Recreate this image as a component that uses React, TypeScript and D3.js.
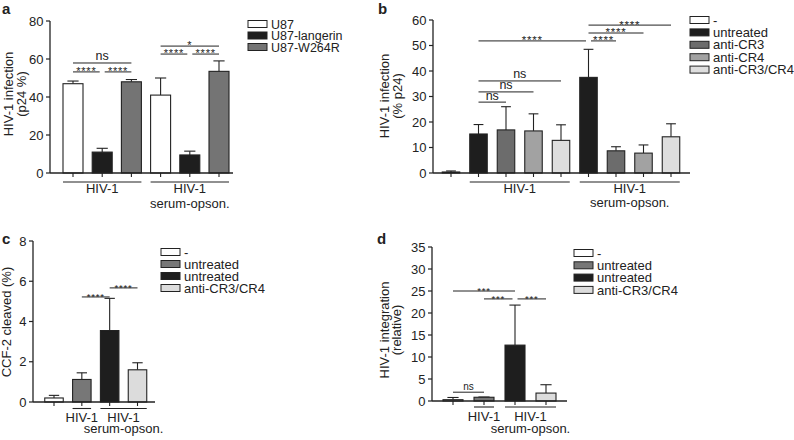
import React from "react";
import * as d3 from "d3";

const FONT = "'Liberation Sans', Arial, Helvetica, sans-serif";
const INK = "#222";

// ---- panel a
const aLegend = ["U87", "U87-langerin", "U87-W264R"];
const aFills = ["#ffffff", "#1e1e1e", "#747474"];
const aSeries = [0, 1, 2, 0, 1, 2];
const aMeans = [47, 11, 48, 41, 9.5, 53.5];
const aSd = [1.4, 2, 1.2, 9, 2, 5.5];
const aTicks = [0, 20, 40, 60, 80];
const aGroups = [
  { from: 0, to: 2, lines: ["HIV-1"] },
  { from: 3, to: 5, lines: ["HIV-1", "serum-opson."] },
];
const aSig = [
  { from: 0, to: 2, y: 57.9, label: "ns" },
  { from: 0, to: 1, y: 53.2, label: "****" },
  { from: 1, to: 2, y: 53.2, label: "****" },
  { from: 3, to: 5, y: 66.8, label: "*" },
  { from: 3, to: 4, y: 62.6, label: "****" },
  { from: 4, to: 5, y: 62.6, label: "****" },
];

// ---- panel b
const bLegend = ["-", "untreated", "anti-CR3", "anti-CR4", "anti-CR3/CR4"];
const bFills = ["#ffffff", "#1e1e1e", "#6c6c6c", "#a2a2a2", "#dedede"];
const bSeries = [0, 1, 2, 3, 4, 1, 2, 3, 4];
const bMeans = [0.4, 15.3, 16.9, 16.5, 12.8, 37.5, 8.7, 7.8, 14.2];
const bSd = [0.4, 3.7, 9.1, 6.7, 6.1, 11, 1.6, 3.2, 5.1];
const bTicks = [0, 10, 20, 30, 40, 50, 60];
const bGroups = [
  { from: 1, to: 4, lines: ["HIV-1"] },
  { from: 5, to: 8, lines: ["HIV-1", "serum-opson."] },
];
const bSig = [
  { from: 1, to: 5, y: 51.8, label: "****" },
  { from: 1, to: 4, y: 36.1, label: "ns" },
  { from: 1, to: 3, y: 31.8, label: "ns" },
  { from: 1, to: 2, y: 27.8, label: "ns" },
  { from: 5, to: 8, y: 58, label: "****" },
  { from: 5, to: 7, y: 54.9, label: "****" },
  { from: 5, to: 6, y: 51.8, label: "****" },
];

// ---- panel c
const cLegend = ["-", "untreated", "untreated", "anti-CR3/CR4"];
const cFills = ["#ffffff", "#777777", "#1e1e1e", "#dcdcdc"];
const cSeries = [0, 1, 2, 3];
const cMeans = [0.2, 1.12, 3.55, 1.6];
const cSd = [0.13, 0.33, 1.6, 0.35];
const cTicks = [0, 2, 4, 6, 8];
const cGroups = [
  { from: 1, to: 1, lines: ["HIV-1"] },
  { from: 2, to: 3, lines: ["HIV-1", "serum-opson."] },
];
const cSig = [
  { from: 1, to: 2, y: 5.22, label: "****" },
  { from: 2, to: 3, y: 5.67, label: "****" },
];

// ---- panel d
const dLegend = ["-", "untreated", "untreated", "anti-CR3/CR4"];
const dFills = ["#ffffff", "#777777", "#1e1e1e", "#dcdcdc"];
const dSeries = [0, 1, 2, 3];
const dMeans = [0.3, 0.85, 12.7, 1.8];
const dSd = [0.5, 0.05, 9.1, 1.9];
const dTicks = [0, 5, 10, 15, 20, 25, 30, 35];
const dGroups = [
  { from: 1, to: 1, lines: ["HIV-1"] },
  { from: 2, to: 3, lines: ["HIV-1", "serum-opson."] },
];
const dSig = [
  { from: 0, to: 2, y: 25, label: "***" },
  { from: 1, to: 2, y: 23.2, label: "***" },
  { from: 2, to: 3, y: 23.2, label: "***" },
  { from: 0, to: 1, y: 2.0, label: "ns" },
];

type Group = { from: number; to: number; lines: string[] };
type Sig = { from: number; to: number; y: number; label: string };

const BarPanel = (props: any) => {
  const {
    letter, letterX, letterY, x0, x1, yTop, yBottom, firstCenter, lastCenter, barW,
    ticks, means, sds, series, fills, legend, legendX, legendY, legendStep, legendFont,
    groups, sigs, title, titleX, titleY, groupDy, labelDy, subDy, starSize, nsSize,
  } = props;

  const yMax = d3.max(ticks as number[]) as number;
  const y = d3.scaleLinear().domain([0, yMax]).range([yBottom, yTop]);
  const x = d3.scalePoint<number>().domain(d3.range(means.length)).range([firstCenter, lastCenter]);
  const cx = (i: number) => x(i) as number;

  // brackets that meet another one at the same height get a small gap
  const inset = (s: Sig, end: "from" | "to") =>
    (sigs as Sig[]).some(o => o !== s && o.y === s.y &&
      (end === "to" ? o.from === s.to : o.to === s.from)) ? 2.5 : 0;

  return (
    <g fontFamily={FONT} fill={INK}>
      <text x={letterX} y={letterY} fontSize={15} fontWeight="bold">{letter}</text>

      {(title as string[]).map((t, k) => (
        <text key={k} transform={`translate(${titleX[k]},${titleY}) rotate(-90)`}
          textAnchor="middle" fontSize={13}>{t}</text>
      ))}

      {/* y axis */}
      <line x1={x0} x2={x0} y1={yTop} y2={yBottom} stroke={INK} strokeWidth={1.3} />
      {(ticks as number[]).map(t => (
        <g key={t}>
          <line x1={x0 - 4} x2={x0} y1={y(t)} y2={y(t)} stroke={INK} strokeWidth={1.2} />
          <text x={x0 - 6.5} y={y(t)} dy="0.36em" textAnchor="end" fontSize={13}>{t}</text>
        </g>
      ))}

      {/* bars + error bars */}
      {(means as number[]).map((m, i) => {
        const top = y(m + sds[i]);
        return (
          <g key={i}>
            <line x1={cx(i)} x2={cx(i)} y1={y(m)} y2={top} stroke={INK} strokeWidth={1.1} />
            <line x1={cx(i) - barW * 0.28} x2={cx(i) + barW * 0.28} y1={top} y2={top} stroke={INK} strokeWidth={1.1} />
            <rect x={cx(i) - barW / 2} y={y(m)} width={barW} height={yBottom - y(m)}
              fill={fills[series[i]]} stroke={INK} strokeWidth={1.1} />
          </g>
        );
      })}

      {/* x axis */}
      <line x1={x0} x2={x1} y1={yBottom} y2={yBottom} stroke={INK} strokeWidth={1.3} />
      {(means as number[]).map((_, i) => (
        <line key={i} x1={cx(i)} x2={cx(i)} y1={yBottom} y2={yBottom + 4} stroke={INK} strokeWidth={1.1} />
      ))}

      {/* groups */}
      {(groups as Group[]).map((g, k) => {
        const gx0 = cx(g.from) - barW / 2;
        const gx1 = cx(g.to) + barW / 2;
        const mid = (gx0 + gx1) / 2;
        return (
          <g key={k}>
            <line x1={gx0} x2={gx1} y1={yBottom + groupDy} y2={yBottom + groupDy} stroke={INK} strokeWidth={1.1} />
            {g.lines.map((t, j) => (
              <text key={j} x={mid} y={yBottom + (j === 0 ? labelDy : subDy)}
                textAnchor="middle" fontSize={13}>{t}</text>
            ))}
          </g>
        );
      })}

      {/* significance */}
      {(sigs as Sig[]).map((s, k) => {
        const sx0 = cx(s.from) + inset(s, "from");
        const sx1 = cx(s.to) - inset(s, "to");
        const ly = y(s.y);
        const isNs = s.label === "ns";
        return (
          <g key={k}>
            <line x1={sx0} x2={sx1} y1={ly} y2={ly} stroke={INK} strokeWidth={1} />
            <text x={(sx0 + sx1) / 2} y={isNs ? ly - 2.5 : ly + starSize * 0.3}
              textAnchor="middle" fontSize={isNs ? nsSize : starSize}
              letterSpacing={isNs ? 0 : 0.8}>{s.label}</text>
          </g>
        );
      })}

      {/* legend */}
      {(legend as string[]).map((t, k) => {
        const ly = legendY + k * legendStep;
        return (
          <g key={k}>
            <rect x={legendX} y={ly - 3.5} width={19} height={7} fill={fills[k]} stroke={INK} strokeWidth={1} />
            <text x={legendX + 23} y={ly} dy="0.36em" fontSize={legendFont}>{t}</text>
          </g>
        );
      })}
    </g>
  );
};

export default function App() {
  return (
    <svg width={794} height={440} style={{ display: "block", position: "absolute", left: 0, top: 0, background: "#fff" }}>
      <rect width={794} height={440} fill="#fff" />
      <BarPanel letter="a" letterX={2} letterY={14}
        x0={50} x1={233} yTop={21} yBottom={173} firstCenter={73} lastCenter={219} barW={20}
        ticks={aTicks} means={aMeans} sds={aSd} series={aSeries} fills={aFills}
        legend={aLegend} legendX={248} legendY={24} legendStep={11.5} legendFont={12.5}
        groups={aGroups} sigs={aSig}
        title={["HIV-1 infection", "(p24 %)"]} titleX={[12.5, 26]} titleY={94}
        groupDy={9} labelDy={20} subDy={35} starSize={11} nsSize={12.5} />
      <BarPanel letter="b" letterX={378} letterY={14}
        x0={433} x1={690} yTop={20} yBottom={173} firstCenter={451} lastCenter={671} barW={17.5}
        ticks={bTicks} means={bMeans} sds={bSd} series={bSeries} fills={bFills}
        legend={bLegend} legendX={690} legendY={20} legendStep={12.4} legendFont={13}
        groups={bGroups} sigs={bSig}
        title={["HIV-1 infection", "(% p24)"]} titleX={[388.5, 401.5]} titleY={96}
        groupDy={9} labelDy={20} subDy={34} starSize={11.5} nsSize={12.5} />
      <BarPanel letter="c" letterX={2} letterY={244}
        x0={33} x1={155} yTop={241} yBottom={402} firstCenter={54} lastCenter={137.5} barW={18.5}
        ticks={cTicks} means={cMeans} sds={cSd} series={cSeries} fills={cFills}
        legend={cLegend} legendX={161} legendY={252} legendStep={12} legendFont={13}
        groups={cGroups} sigs={cSig}
        title={["CCF-2 cleaved (%)"]} titleX={[11]} titleY={322}
        groupDy={6.5} labelDy={19.5} subDy={31} starSize={9.5} nsSize={10} />
      <BarPanel letter="d" letterX={377} letterY={244}
        x0={432} x1={567} yTop={247} yBottom={401} firstCenter={453} lastCenter={546} barW={20}
        ticks={dTicks} means={dMeans} sds={dSd} series={dSeries} fills={dFills}
        legend={dLegend} legendX={574} legendY={253} legendStep={12.3} legendFont={13}
        groups={dGroups} sigs={dSig}
        title={["HIV-1 integration", "(relative)"]} titleX={[388.5, 401]} titleY={330}
        groupDy={6} labelDy={20} subDy={31.5} starSize={9.5} nsSize={10} />
    </svg>
  );
}
